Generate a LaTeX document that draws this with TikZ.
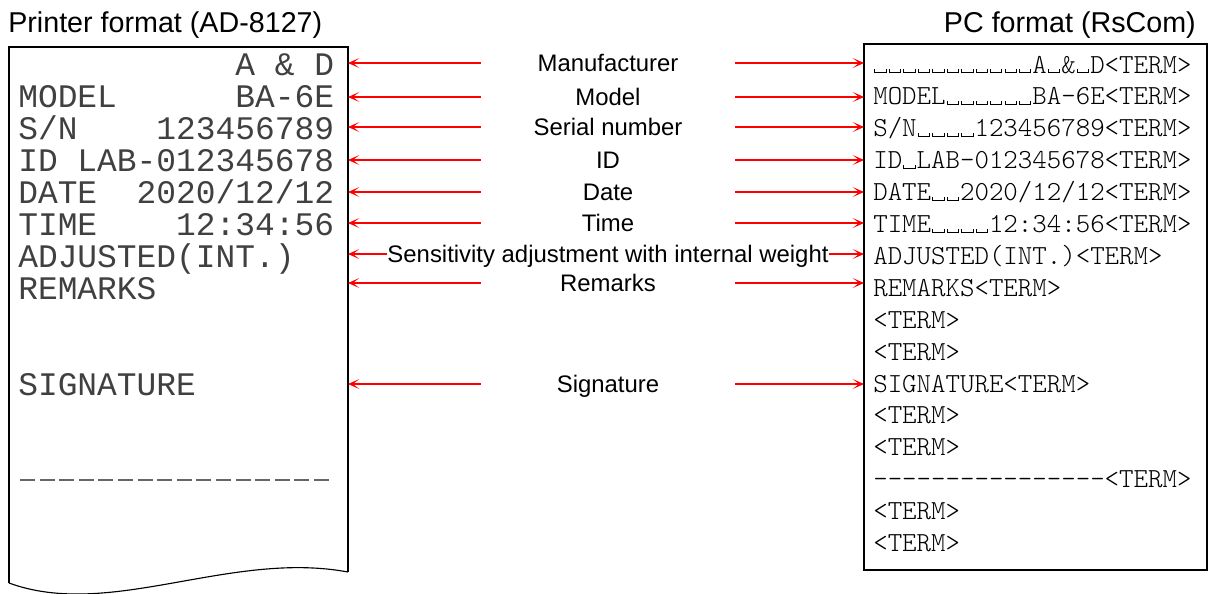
\documentclass[tikz,border=0pt]{standalone}
\usepackage{fontspec}
\setmainfont{Liberation Sans}
\newfontfamily\dotfont[Ligatures=TeXOff]{Liberation Mono}
\newfontfamily\pcfont[Ligatures=TeXOff]{lmmonolt10-regular.otf}
\usetikzlibrary{arrows.meta}
\newcommand\vsp{\makebox[0.525em][c]{\rule{0.035em}{0.13em}\rule{0.38em}{0.035em}\rule{0.035em}{0.13em}}}

\begin{document}
\begin{tikzpicture}[
  head/.style={font=\fontsize{20.4}{24}\selectfont, inner sep=0pt},
  lbl/.style={font=\fontsize{17}{20}\selectfont, inner sep=0pt, minimum width=6.35cm, text height=12.2pt, text depth=0pt},
  prt/.style={font=\dotfont\fontsize{23.4}{28}\selectfont, text=black!75, inner sep=0pt, anchor=base west},
  pc/.style={font=\pcfont\fontsize{19.6}{22}\selectfont, inner sep=0pt, anchor=base west},
  arr/.style={red, line width=0.8pt, -{Stealth[length=8pt,width=7pt,inset=4.5pt]}}
]
\useasboundingbox (0,0) rectangle (30.250,-14.825);

% headings
\node[head, anchor=base west] (hprt) at (0.200,-0.800) {Printer format (AD-8127)};
\node[head, anchor=base east] (hpc) at (29.900,-0.800) {PC format (RsCom)};

% printer slip
\draw[line width=1.2pt] (0.225,-14.575) -- (0.225,-1.175) -- (8.700,-1.175) -- (8.700,-14.300);
\draw[line width=0.8pt] (8.700,-14.300) .. controls (5.750,-13.750) and (2.750,-15.500) .. (0.225,-14.575);
\coordinate (rcpt) at (8.700,0.000);
\node[prt] (p1) at (0.450,-1.888) {~~~~~~~~~~~A~\&~D};
\node[prt] (p2) at (0.450,-2.688) {MODEL~~~~~~BA-6E};
\node[prt] (p3) at (0.450,-3.488) {S/N~~~~123456789};
\node[prt] (p4) at (0.450,-4.288) {ID~LAB-012345678};
\node[prt] (p5) at (0.450,-5.088) {DATE~~2020/12/12};
\node[prt] (p6) at (0.450,-5.888) {TIME~~~~12:34:56};
\node[prt] (p7) at (0.450,-6.688) {ADJUSTED(INT.)};
\node[prt] (p8) at (0.450,-7.488) {REMARKS};
\node[prt] (p9) at (0.450,-9.888) {SIGNATURE};
\draw[black!60, line width=1.2pt, dash pattern=on 0.375cm off 0.115cm] (0.500,-12.000) -- (8.340,-12.000);

% PC output
\draw[line width=1.2pt] (21.600,-1.100) rectangle (30.175,-14.250);
\coordinate (pcbox) at (21.600,0.000);
\node[pc] (c1) at (21.825,-1.825) {\vsp\vsp\vsp\vsp\vsp\vsp\vsp\vsp\vsp\vsp\vsp A\vsp\&\vsp D<TERM>};
\node[pc] (c2) at (21.825,-2.623) {MODEL\vsp\vsp\vsp\vsp\vsp\vsp BA-6E<TERM>};
\node[pc] (c3) at (21.825,-3.420) {S/N\vsp\vsp\vsp\vsp 123456789<TERM>};
\node[pc] (c4) at (21.825,-4.218) {ID\vsp LAB-012345678<TERM>};
\node[pc] (c5) at (21.825,-5.015) {DATE\vsp\vsp 2020/12/12<TERM>};
\node[pc] (c6) at (21.825,-5.813) {TIME\vsp\vsp\vsp\vsp 12:34:56<TERM>};
\node[pc] (c7) at (21.825,-6.610) {ADJUSTED(INT.)<TERM>};
\node[pc] (c8) at (21.825,-7.408) {REMARKS<TERM>};
\node[pc] (c9) at (21.825,-8.205) {<TERM>};
\node[pc] (c10) at (21.825,-9.003) {<TERM>};
\node[pc] (c11) at (21.825,-9.800) {SIGNATURE<TERM>};
\node[pc] (c12) at (21.825,-10.598) {<TERM>};
\node[pc] (c13) at (21.825,-11.395) {<TERM>};
\node[pc] (c14) at (21.825,-12.193) {----------------<TERM>};
\node[pc] (c15) at (21.825,-12.990) {<TERM>};
\node[pc] (c16) at (21.825,-13.788) {<TERM>};

% labels and arrows
\node[lbl] (man) at (15.200,-1.575) {Manufacturer};
\node[lbl] (mdl) at (15.200,-2.425) {Model};
\node[lbl] (ser) at (15.200,-3.175) {Serial number};
\node[lbl] (idn) at (15.200,-4.000) {ID};
\node[lbl] (dat) at (15.200,-4.800) {Date};
\node[lbl] (tim) at (15.200,-5.575) {Time};
\node[lbl] (adj) at (15.200,-6.350) {Sensitivity adjustment with internal weight};
\node[lbl] (rem) at (15.200,-7.075) {Remarks};
\node[lbl] (sig) at (15.200,-9.600) {Signature};
\draw[arr] (man.west) -- (man.west -| rcpt);
\draw[arr] (man.east) -- (man.east -| pcbox);
\draw[arr] (mdl.west) -- (mdl.west -| rcpt);
\draw[arr] (mdl.east) -- (mdl.east -| pcbox);
\draw[arr] (ser.west) -- (ser.west -| rcpt);
\draw[arr] (ser.east) -- (ser.east -| pcbox);
\draw[arr] (idn.west) -- (idn.west -| rcpt);
\draw[arr] (idn.east) -- (idn.east -| pcbox);
\draw[arr] (dat.west) -- (dat.west -| rcpt);
\draw[arr] (dat.east) -- (dat.east -| pcbox);
\draw[arr] (tim.west) -- (tim.west -| rcpt);
\draw[arr] (tim.east) -- (tim.east -| pcbox);
\draw[arr] (adj.west) -- (adj.west -| rcpt);
\draw[arr] (adj.east) -- (adj.east -| pcbox);
\draw[arr] (rem.west) -- (rem.west -| rcpt);
\draw[arr] (rem.east) -- (rem.east -| pcbox);
\draw[arr] (sig.west) -- (sig.west -| rcpt);
\draw[arr] (sig.east) -- (sig.east -| pcbox);
\end{tikzpicture}
\end{document}
